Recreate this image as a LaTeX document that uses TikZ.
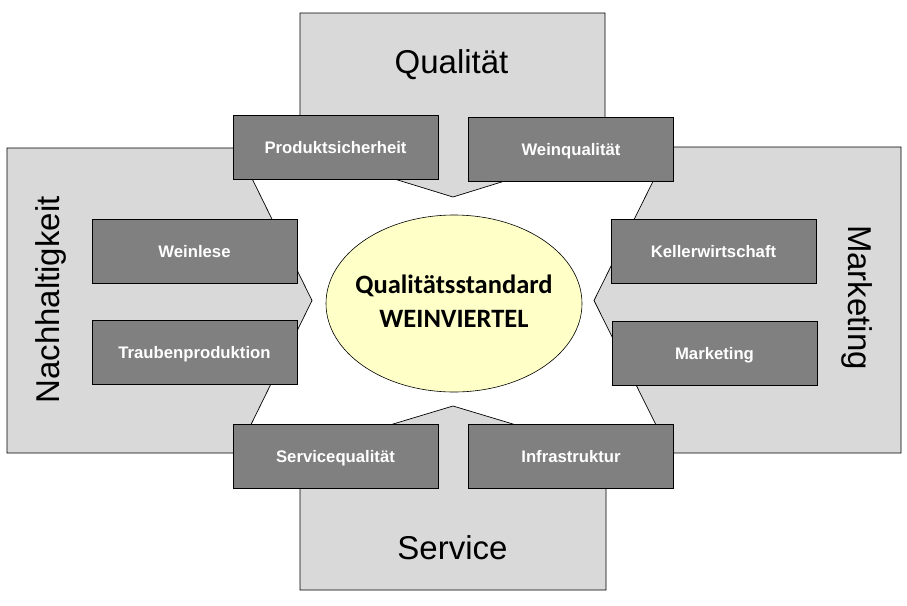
\documentclass[tikz,border=0pt]{standalone}
\usepackage{fontspec}
\setmainfont{Liberation Sans}
\newfontfamily\hubfont{Carlito}
\usetikzlibrary{shapes.geometric}
\definecolor{shapegray}{HTML}{D9D9D9}
\definecolor{boxgray}{HTML}{808080}
\definecolor{hubyellow}{HTML}{FFFFC8}
\begin{document}
\begin{tikzpicture}[x=1pt,y=-1pt,
  bigshape/.style={fill=shapegray,draw=black,line width=0.7pt,line join=miter},
  subbox/.style={rectangle,fill=boxgray,draw=black,line width=0.8pt,
    minimum width=205pt,minimum height=64pt,inner sep=0pt,
    font=\fontsize{16.7}{19}\selectfont\bfseries,text=white,
    text height=12pt,text depth=0pt},
  biglabel/.style={inner sep=0pt,font=\fontsize{33}{37}\selectfont,
    text height=23.6pt,text depth=0pt},
  hub/.style={ellipse,fill=hubyellow,draw=black,line width=0.6pt,
    minimum width=256pt,minimum height=177pt,inner sep=0pt},
  hubtext/.style={inner sep=0pt,font=\hubfont\fontsize{26.5}{30}\selectfont\bfseries,
    text height=16.8pt,text depth=0pt}]
\useasboundingbox (0,0) rectangle (907,605);
\fill[white] (0,0) rectangle (907,605);
% big arrow shapes
\draw[bigshape] (300,13) -- (605,13) -- (605,150) -- (453,197) -- (300,150) -- cycle;
\draw[bigshape] (300,590) -- (606,590) -- (606,452) -- (453,406) -- (300,452) -- cycle;
\draw[bigshape] (7,148) -- (237,148) -- (312,300.5) -- (237,453) -- (7,453) -- cycle;
\draw[bigshape] (901,147) -- (670,147) -- (594,300.5) -- (670,453) -- (901,453) -- cycle;
% big labels
\node[biglabel] (lq) at (451.5,61.5) {Qualität};
\node[biglabel] (ls) at (452.5,547.5) {Service};
\node[biglabel,rotate=90] (ln) at (47.5,300) {Nachhaltigkeit};
\node[biglabel,rotate=-90] (lm) at (860,297.5) {Marketing};
% hub
\node[hub] (hubnode) at (454,303.5) {};
\node[hubtext] (h1) at (454,285.5) {Qualitätsstandard};
\node[hubtext] (h2) at (454,319.5) {WEINVIERTEL};
% sub boxes
\node[subbox] (b1) at (335.5,147) {Produktsicherheit};
\node[subbox] (b2) at (571,149) {Weinqualität};
\node[subbox] (b3) at (194.5,251) {Weinlese};
\node[subbox] (b4) at (194.5,352.5) {Traubenproduktion};
\node[subbox] (b5) at (713.5,251) {Kellerwirtschaft};
\node[subbox] (b6) at (714.5,353.5) {Marketing};
\node[subbox] (b7) at (335.5,456) {Servicequalität};
\node[subbox] (b8) at (571,456) {Infrastruktur};
\end{tikzpicture}
\end{document}
